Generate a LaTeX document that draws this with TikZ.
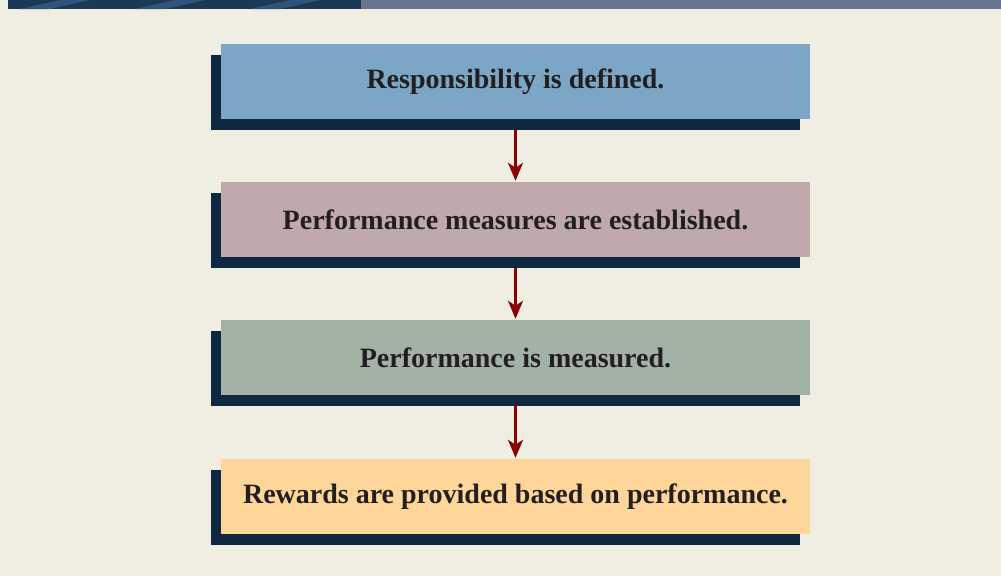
\documentclass[tikz,border=0pt]{standalone}
\usepackage{fontspec}
\setmainfont{Liberation Serif}
\usetikzlibrary{arrows.meta,positioning}
\definecolor{paper}{HTML}{F0EDE2}
\definecolor{bandgrey}{HTML}{67758F}
\definecolor{banddark}{HTML}{1B3957}
\definecolor{bandlight}{HTML}{2E5577}
\definecolor{shadowblue}{HTML}{0F2842}
\definecolor{boxblue}{HTML}{7BA6C6}
\definecolor{boxmauve}{HTML}{BFA9AA}
\definecolor{boxsage}{HTML}{A2B3A5}
\definecolor{boxpeach}{HTML}{FFD699}
\definecolor{inkgrey}{HTML}{231F20}
\definecolor{arrowred}{HTML}{8B0000}
\begin{document}
\begin{tikzpicture}[x=1pt,y=-1pt,
  stepbox/.style={minimum width=589pt,minimum height=75pt,inner sep=0pt,
    font=\fontsize{28}{32}\selectfont\bfseries,text=inkgrey},
  shadowbox/.style={fill=shadowblue,minimum width=589pt,minimum height=75pt,inner sep=0pt},
  flowarrow/.style={draw=arrowred,line width=3pt,-{Stealth[length=18pt,width=15pt,inset=5pt]},shorten >=1pt}]
  \useasboundingbox (0,0) rectangle (1001,576);
  \fill[paper] (0,0) rectangle (1001,576);
  % top band
  \fill[bandgrey] (361,0) rectangle (1001,9);
  \fill[banddark] (8,0) rectangle (361,9);
  \foreach \x in {20,135,250}{\fill[bandlight] (\x,9) -- (\x+40,0) -- (\x+70,0) -- (\x+30,9) -- cycle;}
  % steps
  \foreach \name/\y/\col/\txt in {resp/44/boxblue/Responsibility is defined.,
      meas/182/boxmauve/Performance measures are established.,
      perf/320/boxsage/Performance is measured.,
      rew/459/boxpeach/Rewards are provided based on performance.}{
    \node[shadowbox] (\name-sh) at (505.5,\y+48.5) {};
    \node[stepbox,fill=\col] (\name) at (515.5,\y+37.5) {\txt};
  }
  \draw[flowarrow] (resp-sh.south -| resp.south) -- (meas.north);
  \draw[flowarrow] (meas-sh.south -| meas.south) -- (perf.north);
  \draw[flowarrow] (perf-sh.south -| perf.south) -- (rew.north);
\end{tikzpicture}
\end{document}
